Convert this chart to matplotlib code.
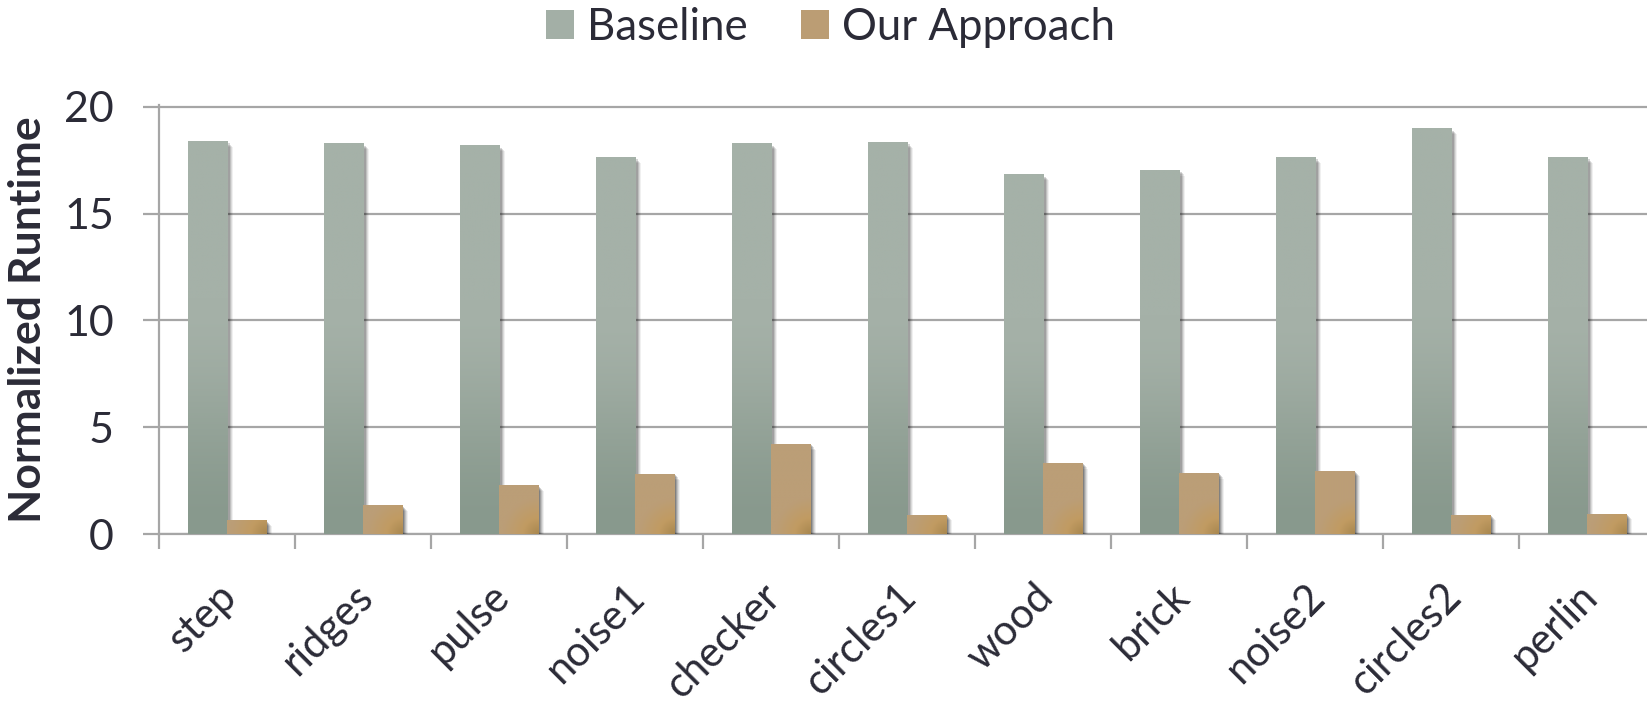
import numpy as np
import matplotlib
matplotlib.use('Agg')
import matplotlib.pyplot as plt
from matplotlib.patches import Patch
import matplotlib.patheffects as pe
from matplotlib.colors import to_rgb
import matplotlib.transforms as mtransforms

categories = ['step', 'ridges', 'pulse', 'noise1', 'checker', 'circles1',
              'wood', 'brick', 'noise2', 'circles2', 'perlin']
baseline = [18.4, 18.3, 18.2, 17.65, 18.3, 18.35, 16.85, 17.05, 17.65, 19.0, 17.65]
ours = [0.66, 1.36, 2.3, 2.83, 4.23, 0.92, 3.35, 2.88, 2.98, 0.92, 0.97]
y_ticks = [0, 5, 10, 15, 20]
series_names = ['Baseline', 'Our Approach']

plt.rcParams['font.family'] = ['Lato', 'DejaVu Sans']
TEXT = '#2b2b37'
GRID = '#a6a6a6'
W, H = 1647, 703

fig = plt.figure(figsize=(W / 100, H / 100), dpi=100)
ppu = 427.6 / 20.0
ymax = 20.1
ax = fig.add_axes([159 / W, 1 - 534.3 / H, 1496 / W, ymax * ppu / H])

x = np.arange(len(categories))
w = 0.29
shadow = [pe.SimplePatchShadow(offset=(o, -o * 1.0), shadow_rgbFace='k', alpha=a)
          for o, a in [(4.2, 0.06), (3.4, 0.09), (2.6, 0.12), (1.8, 0.16), (1.0, 0.2)]] + [pe.Normal()]

b1 = ax.bar(x - w / 2, baseline, w, color='#a3afa6', zorder=3, path_effects=shadow)
b2 = ax.bar(x + w / 2, ours, w, color='#bb9d74', zorder=5, path_effects=shadow)

light = np.array(to_rgb('#a5b1a8'))
dark = np.array(to_rgb('#88998d'))
for bar in b1:
    x0, y0, bw, bh = bar.get_x(), bar.get_y(), bar.get_width(), bar.get_height()
    f = np.linspace(0, 1, 256)[:, None]
    t = np.clip(f / 0.6, 0, 1)
    t = t * t * (3 - 2 * t)
    c = dark + (light - dark) * t[..., None]
    img = np.repeat(c, 2, axis=1)
    im = ax.imshow(img, extent=(x0, x0 + bw, y0, y0 + bh), origin='lower',
                   aspect='auto', zorder=3.5, interpolation='bilinear')
    im.set_clip_path(bar)

base_c = np.array(to_rgb('#bb9e77'))
ring_c = np.array(to_rgb('#c19b62'))
spot_c = np.array(to_rgb('#a8874f'))
for bar in b2:
    x0, y0, bw, bh = bar.get_x(), bar.get_y(), bar.get_width(), bar.get_height()
    nx, ny = 64, 128
    u = np.linspace(0, 1, nx)[None, :]
    v = np.linspace(0, 1, ny)[:, None]
    wpx = 39.3
    hpx = bh * ppu
    d = np.sqrt(((1.0 - u) * wpx) ** 2 + (v * hpx) ** 2) / wpx
    t1 = np.clip(d / 0.4, 0, 1)[..., None]
    t2 = np.clip((d - 0.4) / 0.5, 0, 1)[..., None]
    c = np.where(d[..., None] < 0.4, spot_c + (ring_c - spot_c) * t1,
                 ring_c + (base_c - ring_c) * t2)
    im = ax.imshow(c, extent=(x0, x0 + bw, y0, y0 + bh), origin='lower',
                   aspect='auto', zorder=5.5, interpolation='bilinear')
    im.set_clip_path(bar)

ax.set_xlim(-0.5, len(categories) - 0.5)
ax.set_ylim(0, ymax)
ax.set_yticks(y_ticks)
ax.yaxis.grid(True, color=GRID, lw=1.6, zorder=0)
ax.set_axisbelow(True)
for s in ['top', 'right']:
    ax.spines[s].set_visible(False)
for s in ['left', 'bottom']:
    ax.spines[s].set_color(GRID)
    ax.spines[s].set_linewidth(1.6)

ax.tick_params(axis='y', direction='out', length=11.5, width=1.6, color=GRID,
               pad=21, labelsize=31, labelcolor=TEXT)
ax.set_xticks(np.arange(-0.5, len(categories), 1.0))
ax.set_xticklabels([])
ax.set_xticks(x, minor=True)
ax.set_xticklabels(categories, minor=True)
ax.tick_params(axis='x', which='major', direction='out', length=10.8, width=1.6, color=GRID)
ax.tick_params(axis='x', which='minor', length=0, pad=46.5, labelsize=30, labelcolor=TEXT)
off = mtransforms.ScaledTranslation(12 / 100, 0, fig.dpi_scale_trans)
for lab in ax.get_xticklabels(minor=True):
    lab.set_rotation(45)
    lab.set_ha('right')
    lab.set_va('baseline')
    lab.set_rotation_mode('anchor')
    lab.set_transform(lab.get_transform() + off)

fig.text(28 / W, 1 - 320 / H, 'Normalized Runtime', rotation=90, ha='center', va='center',
         fontsize=32, fontweight='bold', color=TEXT)

handles = [Patch(facecolor='#a3afa6', edgecolor='none'), Patch(facecolor='#bb9d74', edgecolor='none')]
fig.legend(handles, series_names, loc='center', bbox_to_anchor=(830.5 / W, 1 - 27 / H), ncol=2,
           frameon=False, fontsize=31.5, labelcolor=TEXT, handlelength=0.64, handleheight=0.64,
           handletextpad=0.3, columnspacing=1.2, borderpad=0, borderaxespad=0)

fig.savefig('out.png', dpi=100)
